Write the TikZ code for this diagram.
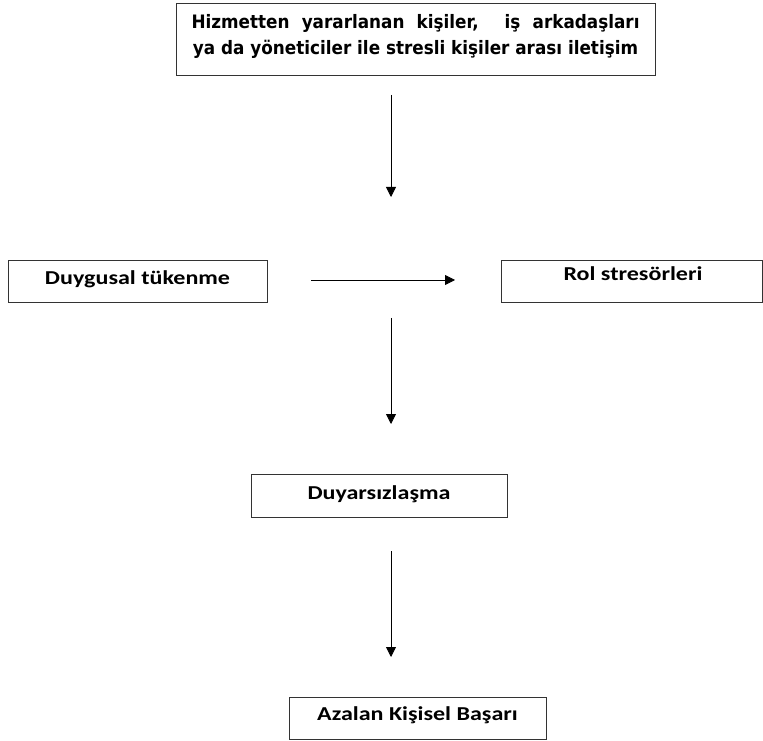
\documentclass[tikz,border=0pt]{standalone}
\usepackage{fontspec}
\setmainfont{Carlito}
\newfontfamily\lblfont[FakeStretch=1.22]{Carlito}
\newfontfamily\topfont[FakeStretch=0.91]{DejaVu Sans}
\usetikzlibrary{arrows.meta}
\begin{document}
\begin{tikzpicture}[x=1pt,y=1pt,
  box/.style={draw=black!80, line width=0.9pt, inner sep=0pt},
  lbl/.style={font=\lblfont\bfseries\fontsize{19.7}{24}\selectfont, inner sep=0pt, anchor=base},
  toplbl/.style={font=\topfont\bfseries\fontsize{18.5}{26}\selectfont, inner sep=0pt, anchor=base},
  arr/.style={line width=0.8pt, -{Triangle[length=10pt,width=10pt]}}]
\useasboundingbox (0,0) rectangle (763,740);
% boxes (pixel coords, y flipped)
\node[box, minimum width=479pt, minimum height=72pt, anchor=north west] (top) at (176,737) {};
\node[toplbl] (topa) at (415.5,711.3) {\makebox[448pt][s]{Hizmetten yararlanan kişiler, \ iş arkadaşları}};
\node[toplbl] (topb) at (415.5,685) {ya da yöneticiler ile stresli kişiler arası iletişim};
\node[box, minimum width=259pt, minimum height=42pt, anchor=north west] (duy) at (8,480) {};
\node[lbl] (duytxt) at (137.5,455.7) {Duygusal tükenme};
\node[box, minimum width=261pt, minimum height=42pt, anchor=north west] (rol) at (501,480) {};
\node[lbl] (roltxt) at (633,459) {Rol stresörleri};
\node[box, minimum width=256pt, minimum height=43pt, anchor=north west] (duya) at (251,266) {};
\node[lbl] (duyatxt) at (379,240.7) {Duyarsızlaşma};
\node[box, minimum width=257pt, minimum height=42pt, anchor=north west] (aza) at (289,43) {};
\node[lbl] (azatxt) at (417.5,19.3) {Azalan Kişisel Başarı};
% arrow endpoints
\coordinate (a1s) at (391,645);
\coordinate (a1e) at (391,543);
\coordinate (a2s) at (391,422);
\coordinate (a2e) at (391,316);
\coordinate (a3s) at (391,189);
\coordinate (a3e) at (391,83);
\coordinate (hs) at (311,460);
\coordinate (he) at (455,460);
\draw[arr] (a1s) -- (a1e);
\draw[arr] (hs) -- (he);
\draw[arr] (a2s) -- (a2e);
\draw[arr] (a3s) -- (a3e);
\end{tikzpicture}
\end{document}
